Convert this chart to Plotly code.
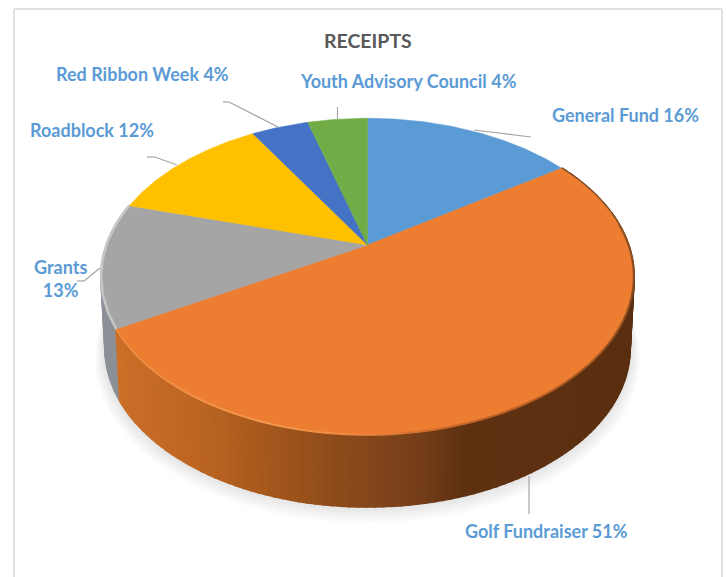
import numpy as np
import plotly.graph_objects as go

CATEGORIES = ["General Fund", "Golf Fundraiser", "Grants", "Roadblock", "Red Ribbon Week", "Youth Advisory Council"]
VALUES = [15.5, 51.2, 12.7, 12.0, 4.2, 4.4]
COLORS = ["#5b9bd5", "#ed7d31", "#a5a5a5", "#ffc000", "#4472c4", "#70ad47"]
TITLE = "RECEIPTS"
LABEL_TEXT = [f"{c} {v:.0f}%" for c, v in zip(CATEGORIES, VALUES)]
LABEL_TEXT[2] = "Grants<br>13%"

W, H = 726, 577
CX, CY, RX, RY, K, DEPTH = 367.5, 245.0, 261.0, 152.0, 0.199, 72.0

def top(theta):
    u, v = np.sin(theta), -np.cos(theta)
    d = 1 - K * v
    return CX + RX * u / d, CY + RY * v / d

def bottom(theta):
    x, y = top(theta)
    return CX + (x - CX) * 0.985, y + DEPTH

def hex2rgb(h):
    return np.array([int(h[i:i + 2], 16) for i in (1, 3, 5)], float)

def ramp(x, stops):
    xs = [s[0] for s in stops]
    cs = np.array([hex2rgb(s[1]) for s in stops])
    return "rgb(%d,%d,%d)" % tuple(np.interp(x, xs, cs[:, i]) for i in range(3))

WALL = [(118, "#cb6f29"), (200, "#bb6522"), (250, "#ab5b1e"), (333, "#8f4c1b"),
        (413, "#77401a"), (463, "#5f3212"), (640, "#5a2f10")]
RIM = [(118, "#f08a42"), (260, "#f49a52"), (363, "#f0883f"), (440, "#c8682a"),
       (560, "#b05a22"), (640, "#8a4e20")]

cum = np.concatenate([[0], np.cumsum(VALUES)]) / sum(VALUES) * 2 * np.pi
fig = go.Figure()

def poly(xs, ys, color, line=None, width=0.6):
    fig.add_trace(go.Scatter(x=list(xs), y=list(ys), mode="lines", fill="toself", fillcolor=color,
                             line=dict(color=line or color, width=width), hoverinfo="skip", showlegend=False))

# soft shadow under the disc
t = np.linspace(0, 2 * np.pi, 200)
bx, by = bottom(t)
for i in range(7):
    s = 1.0 + 0.0055 * (7 - i)
    poly(CX + (bx - CX) * s, by + 1.5 * (7 - i) - 1 + (by - by.mean()) * (s - 1), "rgba(70,70,70,0.02)", width=0)

# side wall, golf fundraiser and grants
def wall(a, b, n, colorfn):
    edges = np.linspace(a, b, n + 1)
    for t0, t1 in zip(edges[:-1], edges[1:]):
        x0, y0 = top(t0); x1, y1 = top(t1)
        x2, y2 = bottom(t1); x3, y3 = bottom(t0)
        poly([x0, x1, x2, x3, x0], [y0, y1, y2, y3, y0], colorfn((x0 + x1) / 2), width=2.2)

wall(cum[2], cum[3], 12, lambda x: "#8b9096")
wall(cum[1], cum[2], 120, lambda x: ramp(x, WALL))

# top face
for i, col in enumerate(COLORS):
    a = np.linspace(cum[i], cum[i + 1], 80)
    x, y = top(a)
    poly(np.r_[CX, x, CX], np.r_[CY, y, CY], col, width=0.5)

# rim highlight along the front edge
edges = np.linspace(np.radians(82), cum[2], 60)
for t0, t1 in zip(edges[:-1], edges[1:]):
    x, y = top(np.array([t0, t1]))
    fig.add_trace(go.Scatter(x=x, y=y, mode="lines", line=dict(color=ramp(x.mean(), RIM), width=2.0),
                             hoverinfo="skip", showlegend=False))
a = np.linspace(cum[2], cum[3], 30)
x, y = top(a)
fig.add_trace(go.Scatter(x=x, y=y, mode="lines", line=dict(color="#c4c6c8", width=2.5),
                         hoverinfo="skip", showlegend=False))
a = np.linspace(cum[1], np.radians(82), 20)
x, y = top(a)
fig.add_trace(go.Scatter(x=x, y=y, mode="lines", line=dict(color="#a85e28", width=1.0),
                         hoverinfo="skip", showlegend=False))

shapes = [dict(type="line", xref="x", yref="y", x0=x0, y0=y0, x1=x1, y1=y1,
               line=dict(color="#a6a6a6", width=1.2))
          for x0, y0, x1, y1 in [
              (337.5, 107, 337.5, 119), (223, 102, 229, 102), (229, 102, 278, 127),
              (147, 157, 155, 157), (155, 157, 177, 165), (77, 281, 84, 281), (84, 281, 100, 268),
              (474, 130, 531, 137), (529, 476, 529, 514)]]
# frame
for x0, y0, x1, y1 in [(14, 9, 722, 9), (14, 9, 14, 577), (722, 9, 722, 577)]:
    shapes.append(dict(type="line", xref="x", yref="y", x0=x0, y0=y0, x1=x1, y1=y1,
                       line=dict(color="#d9d9d9", width=1.5)))

LABEL_POS = [(625, 115), (546, 531), (60, 278), (92, 130), (142, 74), (408, 81)]
ann = [dict(x=px, y=py, xref="x", yref="y", text=txt, showarrow=False, align="center",
            font=dict(family="Lato", size=18, color="#5b9bd5", weight=700))
       for txt, (px, py) in zip(LABEL_TEXT, LABEL_POS)]
ann.append(dict(x=368, y=40, xref="x", yref="y", text=TITLE, showarrow=False,
                font=dict(family="Lato", size=19.5, color="#595959", weight=700)))

fig.update_layout(width=W, height=H, autosize=False, margin=dict(l=0, r=0, t=0, b=0),
                  paper_bgcolor="white", plot_bgcolor="white", showlegend=False,
                  shapes=shapes, annotations=ann,
                  xaxis=dict(range=[0, W], visible=False, fixedrange=True),
                  yaxis=dict(range=[H, 0], visible=False, fixedrange=True))
fig.write_html("out.html", config=dict(displayModeBar=False),
               post_script="document.body.style.margin='0';document.body.style.overflow='hidden';")
